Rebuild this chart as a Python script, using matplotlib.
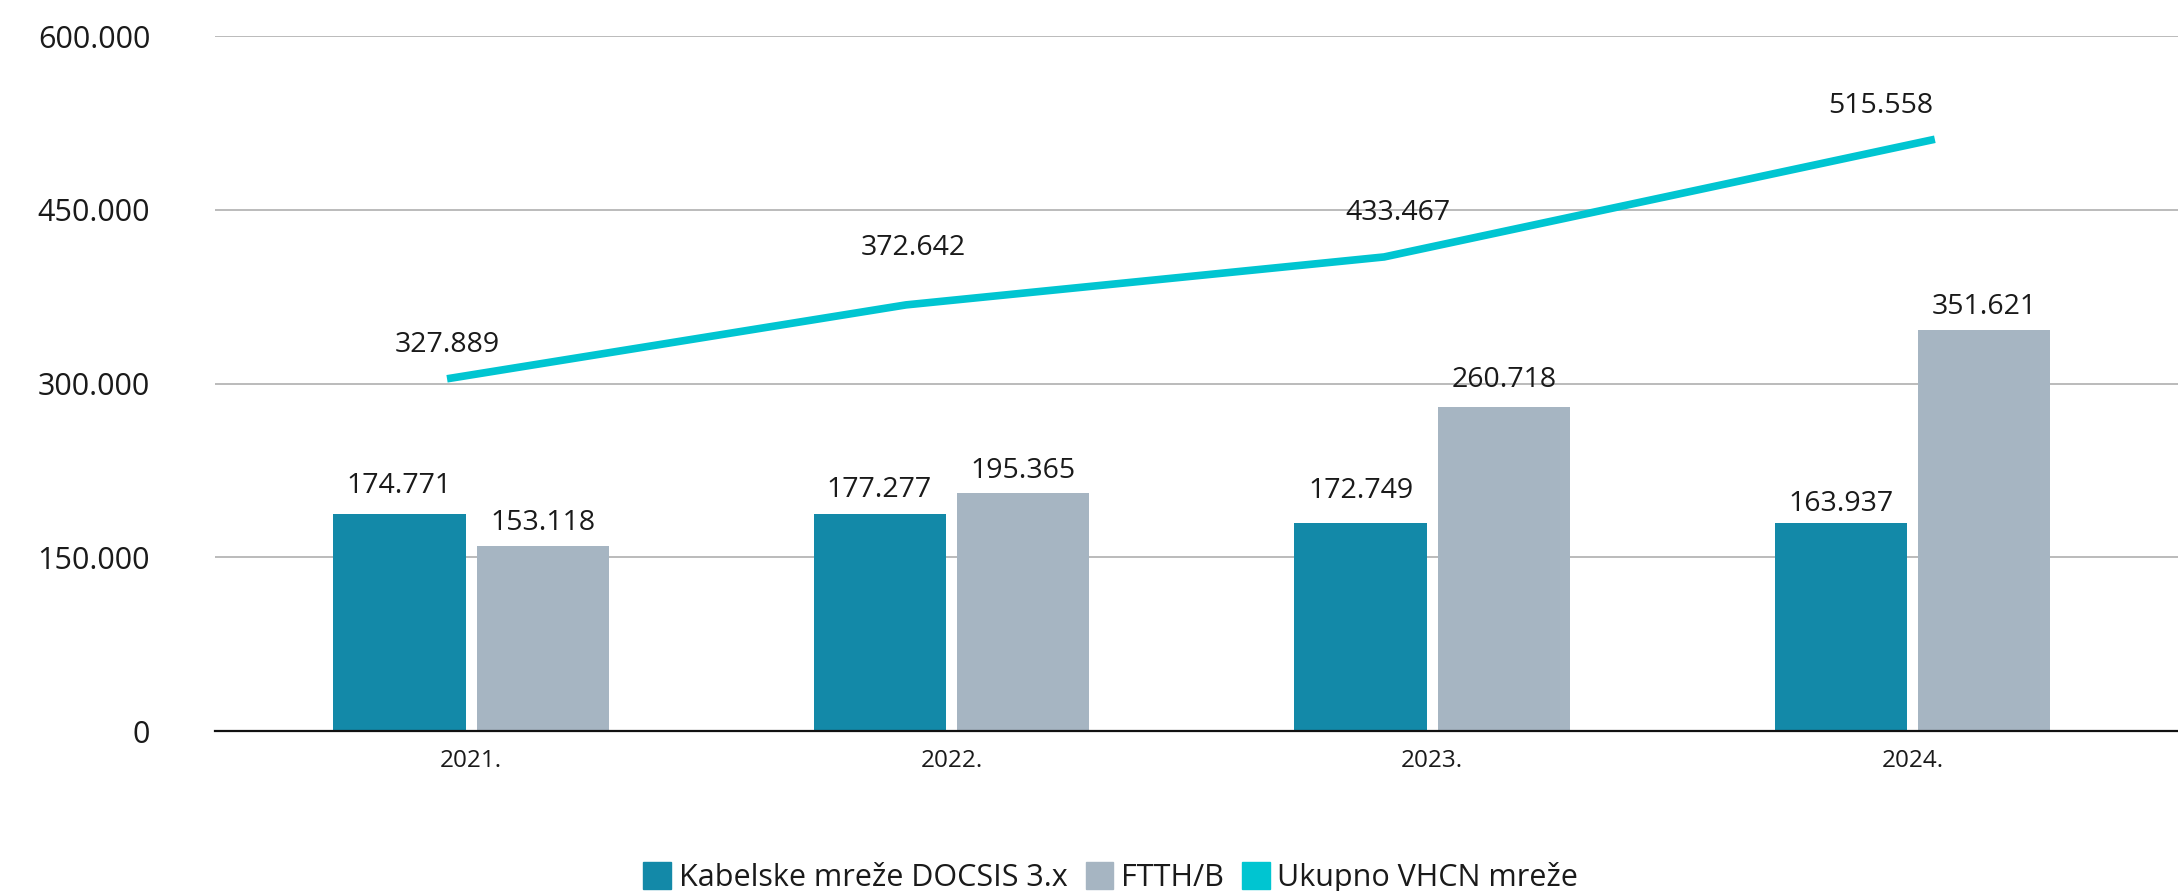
import numpy as np
import matplotlib
matplotlib.use("Agg")
import matplotlib.pyplot as plt
from matplotlib.patches import Patch

# values as drawn in the picture (thousands) and the printed labels
years = ["2021.", "2022.", "2023.", "2024."]
docsis = [187.8, 187.8, 179.7, 179.7]
ftth = [160.1, 205.5, 280.1, 345.9]
vhcn = [304.2, 368.0, 409.4, 511.0]
docsis_labels = ["174.771", "177.277", "172.749", "163.937"]
ftth_labels = ["153.118", "195.365", "260.718", "351.621"]
vhcn_labels = ["327.889", "372.642", "433.467", "515.558"]
y_ticks = [0, 150, 300, 450, 600]
y_tick_labels = ["0", "150.000", "300.000", "450.000", "600.000"]
legend_names = ["Kabelske mreže DOCSIS 3.x", "FTTH/B", "Ukupno VHCN mreže"]

C_DOCSIS = "#1389a8"
C_FTTH = "#a6b5c2"
C_VHCN = "#00c5d1"
TXT = "#1a1a1a"

plt.rcParams["font.family"] = ["Open Sans", "DejaVu Sans"]

fig = plt.figure(figsize=(21.78, 8.91), dpi=100)
ax = fig.add_axes([0.0989, 0.1794, 0.9011, 0.78])

x = np.arange(len(years))
w = 0.275
off = 0.149
ax.bar(x - off, docsis, w, color=C_DOCSIS, zorder=2)
ax.bar(x + off, ftth, w, color=C_FTTH, zorder=2)

# line vertices sit slightly off the category centres in the original
line_shift = [-0.05, -0.095, -0.10, 0.046]
lx = x + np.array(line_shift)
ax.plot(lx, vhcn, color=C_VHCN, lw=5.5, solid_capstyle="butt", zorder=3)

# data labels
docsis_off = [(0, 20), (-1, 17), (0, 23), (0, 14)]
ftth_off = [(0, 16), (0, 16), (0, 19), (0, 17)]
vhcn_off = [(0, 24.5), (5, 41), (10, 32), (-39, 24)]
lab_kw = dict(textcoords="offset points", ha="center", va="center",
              fontsize=20.5, color=TXT, zorder=4)
for i in range(len(years)):
    ax.annotate(docsis_labels[i], (x[i] - off, docsis[i]), xytext=docsis_off[i], **lab_kw)
    ax.annotate(ftth_labels[i], (x[i] + off, ftth[i]), xytext=ftth_off[i], **lab_kw)
    ax.annotate(vhcn_labels[i], (lx[i], vhcn[i]), xytext=vhcn_off[i], **lab_kw)

ax.set_xlim(-0.532, 3.552)
ax.set_ylim(0, 600)
ax.set_yticks(y_ticks)
ax.set_yticklabels(y_tick_labels)
ax.set_xticks(x)
ax.set_xticklabels(years)
ax.tick_params(axis="y", length=0, pad=47, labelsize=22, labelcolor=TXT)
ax.tick_params(axis="x", length=0, pad=13, labelsize=17.5, labelcolor=TXT)
ax.yaxis.grid(True, color="#a8a8a8", lw=1.1, zorder=0)
ax.set_axisbelow(True)
for s in ["top", "right", "left"]:
    ax.spines[s].set_visible(False)
ax.spines["bottom"].set_color("#111111")
ax.spines["bottom"].set_linewidth(1.6)
ax.spines["bottom"].set_zorder(5)

handles = [Patch(color=C_DOCSIS), Patch(color=C_FTTH), Patch(color=C_VHCN)]
fig.legend(handles, legend_names, loc="center", bbox_to_anchor=(0.51, 0.015),
           ncol=3, frameon=False, fontsize=22, handlelength=0.9, handleheight=1.0,
           handletextpad=0.25, columnspacing=0.6, labelcolor=TXT)

fig.savefig("out.png", dpi=100)
